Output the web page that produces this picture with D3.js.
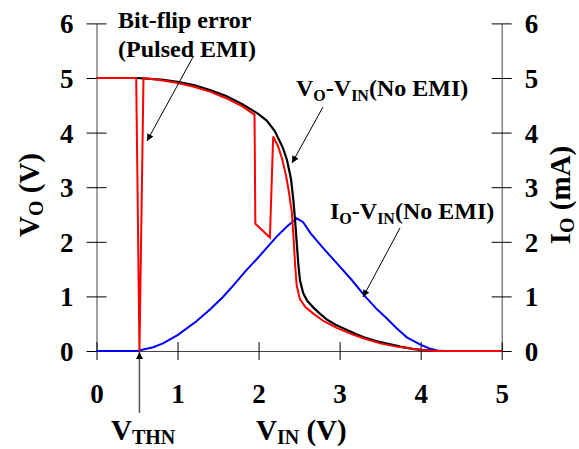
<!DOCTYPE html>
<html>
<head>
<meta charset="utf-8">
<script src="https://cdn.jsdelivr.net/npm/d3@7"></script>
<style>
  body { margin: 0; background: #fff; }
</style>
</head>
<body>
<div id="c1"></div>
<script>
// Data
var xTicks = [0, 1, 2, 3, 4, 5];
var yTicks = [0, 1, 2, 3, 4, 5, 6];

// V_O - V_IN, no EMI (black)
var noEmiVin = [0, 0.5, 0.8, 1.0, 1.2, 1.4, 1.6, 1.8, 2.0, 2.1, 2.2, 2.3, 2.35, 2.4, 2.43, 2.45, 2.47, 2.49, 2.51, 2.55, 2.6, 2.68, 2.76, 2.84, 2.95, 3.05, 3.2, 3.3, 3.45, 3.6, 3.75, 3.9, 4.0, 4.2, 5.0];
var noEmiVout = [5, 5, 4.97, 4.93, 4.87, 4.78, 4.67, 4.52, 4.34, 4.22, 4.03, 3.72, 3.5, 3.15, 2.75, 2.4, 2.0, 1.6, 1.3, 1.06, 0.92, 0.79, 0.68, 0.58, 0.48, 0.41, 0.31, 0.25, 0.18, 0.13, 0.08, 0.04, 0.02, 0, 0];

// V_O - V_IN, pulsed EMI (red)
var emiVin = [0, 0.49, 0.53, 0.58, 0.8, 1.0, 1.2, 1.4, 1.6, 1.8, 1.95, 1.96, 2.14, 2.18, 2.24, 2.29, 2.34, 2.37, 2.41, 2.43, 2.45, 2.47, 2.51, 2.58, 2.68, 2.8, 2.97, 3.15, 3.3, 3.5, 3.7, 3.9, 4.1, 4.2, 5.0];
var emiVout = [5, 5, 0, 5, 4.96, 4.91, 4.84, 4.75, 4.63, 4.48, 4.33, 2.33, 2.08, 3.93, 3.75, 3.52, 3.2, 2.95, 2.55, 2.1, 1.6, 1.2, 0.95, 0.8, 0.68, 0.55, 0.42, 0.31, 0.23, 0.14, 0.08, 0.04, 0.01, 0, 0];

// I_O - V_IN, no EMI (blue, mA)
var ioVin = [0, 0.5, 0.55, 0.7, 0.82, 1.0, 1.23, 1.4, 1.56, 1.7, 1.85, 2.0, 2.22, 2.35, 2.47, 2.55, 2.64, 2.8, 2.97, 3.15, 3.32, 3.45, 3.58, 3.7, 3.83, 3.99, 4.1, 4.2, 4.3, 5.0];
var ioMa = [0, 0, 0.02, 0.07, 0.14, 0.29, 0.54, 0.76, 0.99, 1.22, 1.48, 1.72, 2.09, 2.28, 2.43, 2.36, 2.16, 1.88, 1.6, 1.3, 0.99, 0.78, 0.6, 0.42, 0.25, 0.12, 0.05, 0.01, 0, 0];

var w = 579;
var h = 449;
var serif = "'Liberation Serif', 'Times New Roman', serif";
var svg;

function zip(xs, ys) {
    return xs.map(function (d, i) { return { x: d, y: ys[i] }; });
}

// text with subscripts: parts = [[text, isSub], ...]
function richText(g, parts, size, subSize, shift) {
    var t = g.append("text")
        .style("font-family", serif)
        .style("font-weight", "bold")
        .style("font-size", size + "px")
        .attr("fill", "#000");
    var down = false;
    parts.forEach(function (p) {
        var s = t.append("tspan").text(p[0]);
        if (p[1]) {
            s.style("font-size", subSize + "px");
            if (!down) { s.attr("dy", shift); down = true; }
        } else if (down) {
            s.attr("dy", -shift); down = false;
        }
    });
    return t;
}

function draw() {
    svg = d3.select("#c1").append("svg")
        .attr("width", w)
        .attr("height", h);

    var x = d3.scaleLinear().domain([0, 5]).range([96.5, 501.7]);
    var y = d3.scaleLinear().domain([0, 6]).range([351, 23.4]);
    var y2 = d3.scaleLinear().domain([0, 6]).range([351, 23.4]);

    svg.append("defs").append("marker")
        .attr("id", "arr")
        .attr("viewBox", "0 0 10 10")
        .attr("refX", 10).attr("refY", 5)
        .attr("markerWidth", 7).attr("markerHeight", 7)
        .attr("markerUnits", "userSpaceOnUse")
        .attr("orient", "auto")
        .append("path").attr("d", "M0,0L10,5L0,10z").attr("fill", "#000");

    var fmt = d3.format("d");
    // Left axis
    var gl = svg.append("g")
        .attr("transform", "translate(" + x(0) + ",0)")
        .call(d3.axisLeft(y).tickValues(yTicks).tickFormat(fmt).tickSize(10).tickSizeOuter(0));
    // Right axis
    var gr = svg.append("g")
        .attr("transform", "translate(" + x(5) + ",0)")
        .call(d3.axisRight(y2).tickValues(yTicks).tickFormat(fmt).tickSize(10).tickSizeOuter(0));
    // Bottom axis on y = 0
    var gb = svg.append("g")
        .attr("transform", "translate(0," + y(0) + ")")
        .call(d3.axisBottom(x).tickValues(xTicks).tickFormat(fmt).tickSize(9).tickSizeOuter(0));

    [gl, gr].forEach(function (g) {
        g.selectAll(".tick line").attr("x1", -10).attr("x2", 10);
    });
    gb.selectAll(".tick line").attr("y1", -9).attr("y2", 9);
    [gl, gr, gb].forEach(function (g) {
        g.select(".domain").attr("stroke", "#444").attr("stroke-width", 1);
        g.selectAll(".tick line").attr("stroke", "#000").attr("stroke-width", 1);
        g.selectAll(".tick text")
            .style("font-size", "27px")
            .style("font-family", serif)
            .style("font-weight", "bold")
            .attr("fill", "#000");
    });
    gl.selectAll(".tick text").attr("x", -23).attr("dy", "0.35em");
    gr.selectAll(".tick text").attr("x", 23).attr("dy", "0.35em");
    gb.selectAll(".tick text").attr("y", 52).attr("dy", 0);

    // Curves
    var line = d3.line()
        .x(function (d) { return x(d.x); })
        .y(function (d) { return y(d.y); });
    var line2 = d3.line()
        .x(function (d) { return x(d.x); })
        .y(function (d) { return y2(d.y); });

    svg.append("path").datum(zip(ioVin, ioMa))
        .attr("d", line2).attr("fill", "none")
        .attr("stroke", "#0000ff").attr("stroke-width", 2);
    svg.append("path").datum(zip(noEmiVin, noEmiVout))
        .attr("d", line).attr("fill", "none")
        .attr("stroke", "#000").attr("stroke-width", 2.2);
    svg.append("path").datum(zip(emiVin, emiVout))
        .attr("d", line).attr("fill", "none")
        .attr("stroke", "#ff0000").attr("stroke-width", 2)
        .attr("stroke-linejoin", "miter");

    // Annotations
    richText(svg, [["Bit-flip error", 0]], 24, 16, 0).attr("x", 118).attr("y", 28);
    richText(svg, [["(Pulsed EMI)", 0]], 24, 16, 0).attr("x", 118).attr("y", 57);

    var a = richText(svg, [["V", 0], ["O", 1], ["-V", 0], ["IN", 1], ["(No EMI)", 0]], 24, 16, 5);
    a.attr("x", 296).attr("y", 96);
    var b = richText(svg, [["I", 0], ["O", 1], ["-V", 0], ["IN", 1], ["(No EMI)", 0]], 24, 16, 5);
    b.attr("x", 330).attr("y", 219);

    var arrows = [
        [193, 57, 147, 141],
        [323, 107, 292, 163],
        [400, 228, 363, 297]
    ];
    svg.selectAll("line.ann")
        .data(arrows)
        .enter()
        .append("line")
        .attr("class", "ann")
        .attr("x1", function (d) { return d[0]; })
        .attr("y1", function (d) { return d[1]; })
        .attr("x2", function (d) { return d[2]; })
        .attr("y2", function (d) { return d[3]; })
        .attr("stroke", "#000").attr("stroke-width", 1)
        .attr("marker-end", "url(#arr)");

    // V_THN marker
    svg.append("line")
        .attr("x1", x(0.53)).attr("x2", x(0.53))
        .attr("y1", 413).attr("y2", y(0) + 1)
        .attr("stroke", "#555").attr("stroke-width", 1.5)
        .attr("marker-end", "url(#arr)");

    // Axis titles
    var vt = richText(svg, [["V", 0], ["THN", 1]], 29, 20, 4);
    vt.attr("x", 111).attr("y", 440);
    var xt = richText(svg, [["V", 0], ["IN", 1], [" (V)", 0]], 29, 20, 4);
    xt.attr("x", 256).attr("y", 440);

    var yl = richText(svg, [["V", 0], ["O", 1], [" (V)", 0]], 29, 20, 4);
    yl.attr("text-anchor", "middle")
        .attr("transform", "translate(39,195) rotate(-90)");
    var yr = richText(svg, [["I", 0], ["O", 1], [" (mA)", 0]], 29, 20, 4);
    yr.attr("text-anchor", "middle")
        .attr("transform", "translate(570,195) rotate(-90)");
}

draw();
</script>
</body>
</html>
